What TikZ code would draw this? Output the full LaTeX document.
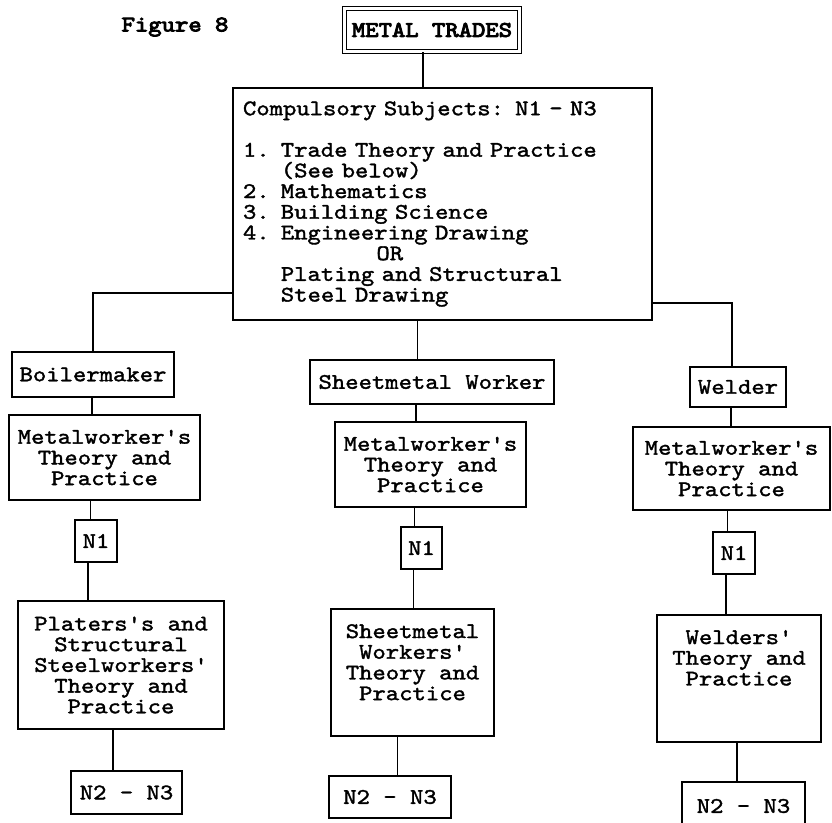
\documentclass[tikz,border=0pt]{standalone}
\usepackage{fontspec}
\newfontfamily\tw[FakeStretch=1.14, WordSpace={1,0,0}, FakeBold=1.6]{lmmono10-regular.otf}
\newfontfamily\twb[FakeStretch=1.14, WordSpace={1,0,0}, FakeBold=4]{lmmono10-regular.otf}
\usetikzlibrary{positioning}

\tikzset{
  tt/.style={font=\tw\fontsize{22.3}{20.7}\selectfont},
  ttb/.style={font=\twb\fontsize{22.3}{20.7}\selectfont},
  box/.style={tt, draw, line width=1.3pt, rectangle, inner sep=0pt, align=center},
  link/.style={line width=1.3pt},
  titlebox/.style={ttb, draw, double, double distance=2.4pt, line width=1pt, inner sep=0pt}
}

% vertical connector from the bottom of #1 to the top of #2, shifted by #3
\newcommand\vlink[3]{%
  \path ([xshift=#3]#1.south) coordinate (from#1);
  \draw[link] (from#1) -- (from#1 |- #2.north);}

\begin{document}
\begin{tikzpicture}[x=1pt, y=-1pt]
\useasboundingbox (0,0) rectangle (832,822);
\clip (0,0) rectangle (832,822);

% heading
\node[ttb] (fig) at (175,27) {Figure 8};
\node[titlebox, minimum width=175, minimum height=43] (title) at (432,30) {METAL TRADES};

% common subjects
\node[box, minimum height=232, text width=399, inner xsep=10pt, align=left] (comp) at (442.5,204)
  {Compulsory Subjects: N1 - N3\\[20.7pt]
   1. Trade Theory and Practice\\
   \phantom{1. }(See below)\\
   2. Mathematics\\
   3. Building Science\\
   4. Engineering Drawing\\
   \phantom{0000000000}OR\\
   \phantom{1. }Plating and Structural\\
   \phantom{1. }Steel Drawing};

% Boilermaker column
\node[box, minimum width=162, minimum height=45] (boil) at (93,374.5) {Boilermaker};
\node[box, minimum width=191, minimum height=85] (metL) at (104.5,457.5) {Metalworker's\\Theory and\\Practice};
\node[box, minimum width=42, minimum height=42] (n1L) at (96,541) {N1};
\node[box, minimum width=206, minimum height=128] (platL) at (121,665)
  {Platers's and\\Structural\\Steelworkers'\\Theory and\\Practice};
\node[box, minimum width=111, minimum height=43] (n23L) at (126.5,792.5) {N2 - N3};

% Sheetmetal Worker column
\node[box, minimum width=244, minimum height=44] (sheet) at (432,382) {Sheetmetal Worker};
\node[box, minimum width=191, minimum height=85] (metM) at (430.5,464.5) {Metalworker's\\Theory and\\Practice};
\node[box, minimum width=41, minimum height=42] (n1M) at (421.5,548) {N1};
\node[box, minimum width=163, minimum height=127] (platM) at (412.5,672.5)
  {Sheetmetal\\Workers'\\Theory and\\Practice\\\mbox{}};
\node[box, minimum width=122, minimum height=42] (n23M) at (390,797) {N2 - N3};

% Welder column
\node[box, minimum width=96, minimum height=40] (weld) at (738,387) {Welder};
\node[box, minimum width=197, minimum height=83] (metR) at (731.5,468.5) {Metalworker's\\Theory and\\Practice};
\node[box, minimum width=42, minimum height=42] (n1R) at (734,553) {N1};
\node[box, minimum width=164, minimum height=127] (platR) at (739,678.5)
  {Welders'\\Theory and\\Practice\\\mbox{}\\\mbox{}};
\node[box, minimum width=123, minimum height=48] (n23R) at (743.5,806) {N2 - N3};

% connectors
\vlink{title}{comp}{-9pt}
\draw[link] (comp.west |- 0,293) -| (boil.north);
\vlink{comp}{sheet}{-25pt}
\draw[link] (comp.east |- 0,303) -| ([xshift=-6pt]weld.north);

\vlink{boil}{metL}{-1pt}
\vlink{metL}{n1L}{-14pt}
\vlink{n1L}{platL}{-8pt}
\vlink{platL}{n23L}{-8pt}

\vlink{sheet}{metM}{-16pt}
\vlink{metM}{n1M}{-16pt}
\vlink{n1M}{platM}{-8pt}
\vlink{platM}{n23M}{-15pt}

\vlink{weld}{metR}{-7pt}
\vlink{metR}{n1R}{-4pt}
\vlink{n1R}{platR}{-8pt}
\vlink{platR}{n23R}{-2pt}
\end{tikzpicture}
\end{document}
